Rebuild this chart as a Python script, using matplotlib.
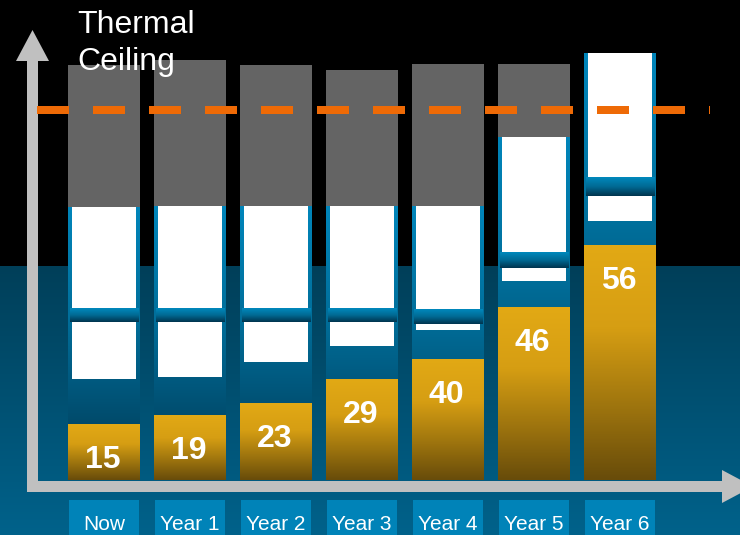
import numpy as np
import matplotlib
matplotlib.use("Agg")
import matplotlib.pyplot as plt
from matplotlib.colors import LinearSegmentedColormap, to_rgb

plt.rcParams['font.family'] = ['Liberation Sans', 'DejaVu Sans']

# Data (heights measured upward from the baseline, in pixel-like units)
categories = ["Now", "Year 1", "Year 2", "Year 3", "Year 4", "Year 5", "Year 6"]
values = [15, 19, 23, 29, 40, 46, 56]
yellow_top = [56, 65, 77, 101, 121, 173, 235]
low_white_bottom = [101, 103, 118, 134, 150, 199, 259]
sep_bottom = [158, 158, 158, 158, 156, 212, 284]
sep_top = [172, 172, 172, 172, 171, 228, 303]
frame_top = [273, 274, 274, 274, 274, 343, 427]
gray_top = [415, 420, 415, 410, 416, 416, 0]
ceiling = 370

# layout
W, H = 740, 535
px_per_cat = 86
first_center = 104
base_px = 480

fig = plt.figure(figsize=(W / 100, H / 100), dpi=100)

# background / decoration axes in pixel coordinates
bg = fig.add_axes([0, 0, 1, 1])
bg.set_xlim(0, W)
bg.set_ylim(H, 0)
bg.axis('off')
rows = np.zeros((H, 1, 3))
c0, c1 = np.array(to_rgb('#003f59')), np.array(to_rgb('#00628b'))
for r in range(266, H):
    t = (r - 266) / (H - 266)
    rows[r, 0] = c0 + (c1 - c0) * t
bg.imshow(rows, extent=(0, W, H, 0), aspect='auto', interpolation='bilinear')

# axis arrows
axis_col = '#c0c0c0'
bg.fill([27, 38, 38, 49, 32.5, 16, 27], [492, 492, 61, 61, 30, 61, 61], color=axis_col, lw=0)
bg.fill([27, 722, 722, 753, 722, 722, 27], [481, 481, 470, 486.5, 503, 492, 492], color=axis_col, lw=0)

# data axes
ax = fig.add_axes([0, 0, 1, 1])
ax.patch.set_visible(False)
ax.axis('off')
xmin = -first_center / px_per_cat
xmax = xmin + W / px_per_cat
ymin, ymax = -(H - base_px), base_px

x = np.arange(len(categories))
w = 72 / px_per_cat
d = 1 / px_per_cat  # one pixel horizontally

frame_cmap = LinearSegmentedColormap.from_list(
    'frame', [(0, '#0085ba'), (0.4, '#006f9b'), (0.63, '#005a80'), (0.8, '#004a6a'), (1, '#003d58')])
sep_cmap = LinearSegmentedColormap.from_list('sep', ['#0089bd', '#006a94', '#00344e'])
gold_cmap = LinearSegmentedColormap.from_list(
    'gold', [(0, '#e2a915'), (0.35, '#d69e13'), (0.7, '#9c730e'), (1, '#684c0a')])

grad = np.linspace(0, 1, 200).reshape(-1, 1)

# gray "headroom" boxes
ax.bar(x, gray_top, width=w, color='#646464', zorder=1)

for i in range(len(categories)):
    left = x[i] - w / 2
    # blue frame, shaded from top down to the baseline
    ax.imshow(grad, extent=(left, left + w, 0, frame_top[i]), cmap=frame_cmap,
              aspect='auto', interpolation='bilinear', zorder=2, origin='upper')
    # separator band
    ax.imshow(grad, extent=(left + 1.5 * d, left + w - 1.5 * d, sep_bottom[i], sep_top[i]),
              cmap=sep_cmap, aspect='auto', interpolation='bilinear', zorder=4, origin='upper')
    # gold bar
    ax.imshow(grad, extent=(left, left + w, 0, yellow_top[i]), cmap=gold_cmap,
              aspect='auto', interpolation='bilinear', zorder=4, origin='upper')

# white slots
inner = w - 8 * d
ax.bar(x, np.array(frame_top) - np.array(sep_top), bottom=sep_top, width=inner,
       color='white', zorder=3)
ax.bar(x, np.array(sep_bottom) - np.array(low_white_bottom), bottom=low_white_bottom,
       width=inner, color='white', zorder=3)

# value labels
for i, v in enumerate(values):
    ax.text(x[i] - 1.5 * d, yellow_top[i] - 36, str(v), color='white', fontsize=23,
            fontweight='bold', ha='center', va='center', zorder=6)

# thermal ceiling dashed line
ax.plot([xmin + 37 / px_per_cat, xmin + 710 / px_per_cat], [ceiling, ceiling],
        color='#ee6a06', lw=5.76, dashes=(4, 3), solid_capstyle='butt',
        dash_capstyle='butt', zorder=7)

# title text sits above the bars
ax.text(77, 33, "Thermal", color='white', fontsize=23, va='baseline', ha='left',
        transform=bg.transData, zorder=8)
ax.text(77, 70, "Ceiling", color='white', fontsize=23, va='baseline', ha='left',
        transform=bg.transData, zorder=8)

# category tick boxes
ax.bar(x, 35, bottom=ymin, width=70 / px_per_cat, color='#0083b8', zorder=2)
for i, c in enumerate(categories):
    ax.text(x[i], ymin + 5, c, color='white', fontsize=15, ha='center', va='baseline', zorder=6)

ax.set_xlim(xmin, xmax)
ax.set_ylim(ymin, ymax)

fig.savefig('out.png', dpi=100, facecolor='black')
